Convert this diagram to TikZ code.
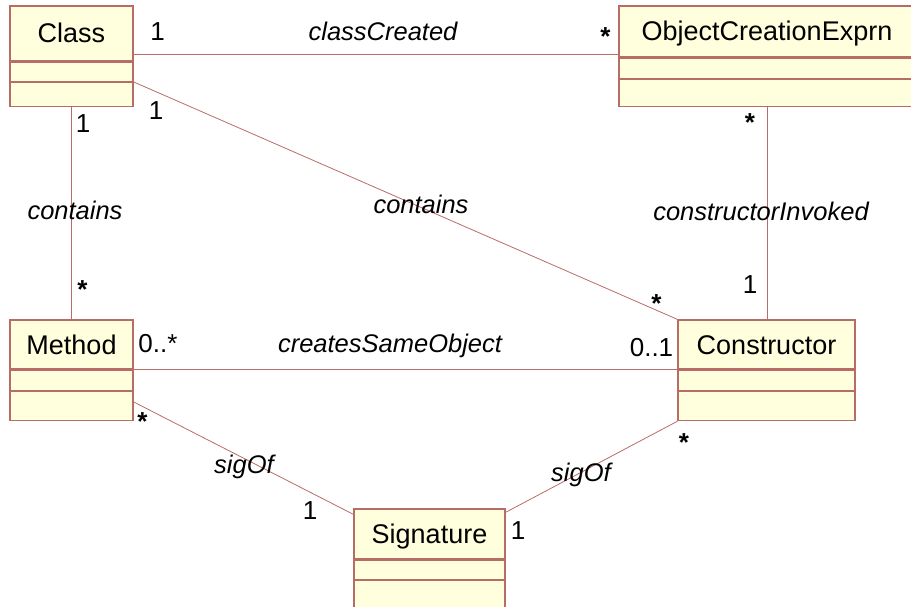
\documentclass[tikz,border=0pt]{standalone}
\usepackage{fontspec}
\setmainfont{Liberation Sans}
\usetikzlibrary{positioning}
\definecolor{umlfill}{RGB}{255,255,221}
\definecolor{umlline}{RGB}{184,108,104}

\begin{document}
\begin{tikzpicture}[x=1pt,y=-1pt,
  cname/.style={draw=umlline,fill=umlfill,line width=1.3pt,inner sep=0pt,
    text height=19pt,text depth=0pt,font=\fontsize{27}{30}\selectfont},
  ccomp/.style={draw=umlline,fill=umlfill,line width=1.3pt,inner sep=0pt},
  assoc/.style={draw=umlline,line width=0.8pt},
  mult/.style={inner sep=0pt,anchor=base,font=\fontsize{26}{30}\selectfont},
  many/.style={mult,font=\fontsize{26}{30}\selectfont\bfseries},
  role/.style={inner sep=0pt,anchor=base,font=\fontsize{25.5}{30}\selectfont\itshape}]

\clip (0,0) rectangle (911,607);

% classes
\node[cname,minimum width=123pt,minimum height=55pt] (class) at (71.5,33.5) {Class};
\node[ccomp,minimum width=123pt,minimum height=19pt,below=0pt of class] (class-a) {};
\node[ccomp,minimum width=123pt,minimum height=24pt,below=0pt of class-a] (class-b) {};

\node[cname,minimum width=296pt,minimum height=51pt] (oce) at (767,31.5) {ObjectCreationExprn};
\node[ccomp,minimum width=296pt,minimum height=20pt,below=0pt of oce] (oce-a) {};
\node[ccomp,minimum width=296pt,minimum height=27pt,below=0pt of oce-a] (oce-b) {};

\node[cname,minimum width=123pt,minimum height=49pt] (meth) at (71.5,344.5) {Method};
\node[ccomp,minimum width=123pt,minimum height=20pt,below=0pt of meth] (meth-a) {};
\node[ccomp,minimum width=123pt,minimum height=29pt,below=0pt of meth-a] (meth-b) {};

\node[cname,minimum width=177pt,minimum height=49pt] (cons) at (766.5,344.5) {Constructor};
\node[ccomp,minimum width=177pt,minimum height=20pt,below=0pt of cons] (cons-a) {};
\node[ccomp,minimum width=177pt,minimum height=29pt,below=0pt of cons-a] (cons-b) {};

\node[cname,minimum width=151pt,minimum height=50pt] (sig) at (429.5,534) {Signature};
\node[ccomp,minimum width=151pt,minimum height=19pt,below=0pt of sig] (sig-a) {};
\node[ccomp,minimum width=151pt,minimum height=30pt,below=0pt of sig-a] (sig-b) {};

% associations
\draw[assoc] ([yshift=7pt]class.south east) -- ([yshift=3pt]oce.south west);
\draw[assoc] (class-a.south east) -- (cons.north west);
\draw[assoc] (class-b.south) -- (meth.north);
\draw[assoc] (oce-b.south) -- (oce-b.south |- cons.north);
\draw[assoc] (meth.south east) -- (cons.south west);
\draw[assoc] ([yshift=-11pt]meth-b.north east) -- ([yshift=-6pt]sig.north west);
\draw[assoc] (cons-b.south west) -- ([yshift=-4pt]sig.north east);

% labels
\node[mult] (m-cc1) at (157.5,41) {1};
\node[role] (r-cc) at (383,41) {classCreated};
\node[many] (m-cc2) at (605.5,45.5) {*};
\node[mult] (m-ck1) at (156,120) {1};
\node[mult] (m-cm1) at (83,133) {1};
\node[role] (r-cm) at (75,219) {contains};
\node[many] (m-cm2) at (82.5,298) {*};
\node[role] (r-ck) at (421,214) {contains};
\node[many] (m-ck2) at (656.5,312) {*};
\node[many] (m-ci1) at (750,132) {*};
\node[role] (r-ci) at (761,221) {constructorInvoked};
\node[mult] (m-ci2) at (750,293) {1};
\node[mult] (m-cs1) at (158,352) {0..*};
\node[role] (r-cs) at (390,352) {createsSameObject};
\node[mult] (m-cs2) at (651.5,356.5) {0..1};
\node[many] (m-ms1) at (142.5,430) {*};
\node[role] (r-ms) at (244,473) {sigOf};
\node[mult] (m-ms2) at (310,519) {1};
\node[many] (m-ks1) at (684,451) {*};
\node[role] (r-ks) at (581,481) {sigOf};
\node[mult] (m-ks2) at (518,539) {1};

\end{tikzpicture}
\end{document}
